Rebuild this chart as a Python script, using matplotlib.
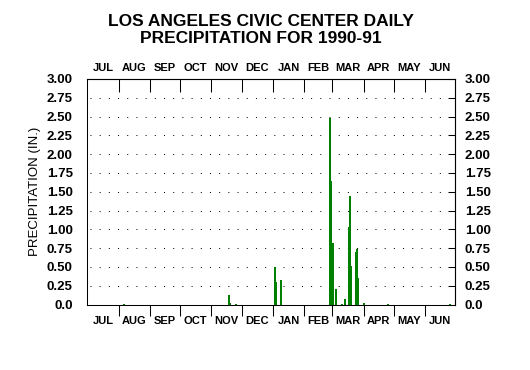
import numpy as np
import matplotlib
matplotlib.use("Agg")
import matplotlib.pyplot as plt

# daily precipitation, water year Jul 1990 - Jun 1991
# day = days since Jul 1 1990
months = ["JUL", "AUG", "SEP", "OCT", "NOV", "DEC", "JAN", "FEB", "MAR", "APR", "MAY", "JUN"]
month_len = [31, 31, 30, 31, 30, 31, 31, 28, 31, 30, 31, 30]
rain_day = [35, 140, 141, 147, 185, 186, 191, 240, 241, 243, 246, 252, 255,
            259, 260, 261, 266, 267, 268, 273, 297, 359]
rain_in = [0.01, 0.12, 0.02, 0.01, 0.50, 0.30, 0.33, 2.48, 1.64, 0.82, 0.21, 0.01, 0.07,
           1.03, 1.44, 0.51, 0.70, 0.74, 0.35, 0.02, 0.01, 0.01]
y_ticks = [0.0, 0.25, 0.5, 0.75, 1.0, 1.25, 1.5, 1.75, 2.0, 2.25, 2.5, 2.75, 3.0]
y_labels = ["0.0", "0.25", "0.50", "0.75", "1.00", "1.25", "1.50", "1.75", "2.00",
            "2.25", "2.50", "2.75", "3.00"]

plt.rcParams["font.family"] = ["Liberation Sans", "DejaVu Sans"]
plt.rcParams["lines.scale_dashes"] = False

bounds = np.concatenate([[0], np.cumsum(month_len)])
mids = (bounds[:-1] + bounds[1:]) / 2.0
ndays = bounds[-1]

fig = plt.figure(figsize=(5.3, 3.7), dpi=100)
ax = fig.add_axes([0.1647, 0.177, 0.6943, 0.6095])

# dotted guide rows
ax.hlines(y_ticks[1:-1], 0, ndays, colors="black", linewidth=0.72,
          linestyles=[(4.5, (0.72, 5.9))])

ax.bar(np.array(rain_day) + 0.5, rain_in, width=1.0, color="#008000",
       edgecolor="#008000", linewidth=0.4, antialiased=False, zorder=3)

ax.set_xlim(0, ndays)
ax.set_ylim(0, 3.0)

for s in ax.spines.values():
    s.set_linewidth(0.75)

# bottom month axis
ax.set_xticks(bounds[1:-1])
ax.set_xticklabels([])
ax.set_xticks(mids, minor=True)
ax.set_xticklabels(months, minor=True, fontsize=8, fontweight="bold")
ax.tick_params(axis="x", which="major", direction="out", length=8, width=0.75, top=False)
ax.tick_params(axis="x", which="minor", length=0, pad=8)

# top month axis
top = ax.secondary_xaxis("top")
top.set_xticks(bounds[1:-1])
top.set_xticklabels([])
top.set_xticks(mids, minor=True)
top.set_xticklabels(months, minor=True, fontsize=8, fontweight="bold")
top.tick_params(axis="x", which="major", direction="in", length=9.5, width=0.75)
top.tick_params(axis="x", which="minor", length=0, pad=4.5)

# y axes
ax.set_yticks(y_ticks)
ax.set_yticklabels(y_labels, fontsize=9.5, fontweight="bold")
ax.tick_params(axis="y", left=False, length=0, pad=10.5)
right = ax.secondary_yaxis("right")
right.set_yticks(y_ticks)
right.set_yticklabels(y_labels, fontsize=9.5, fontweight="bold")
right.tick_params(axis="y", direction="in", length=5, width=0.75, pad=7)

ax.set_ylabel("PRECIPITATION (IN.)", fontsize=9.5, labelpad=4)

fig.text(0.493, 0.92, "LOS ANGELES CIVIC CENTER DAILY\nPRECIPITATION FOR 1990-91",
         ha="center", va="center", fontsize=12.5, fontweight="bold", linespacing=1.18)

fig.savefig("out.png", dpi=100)
